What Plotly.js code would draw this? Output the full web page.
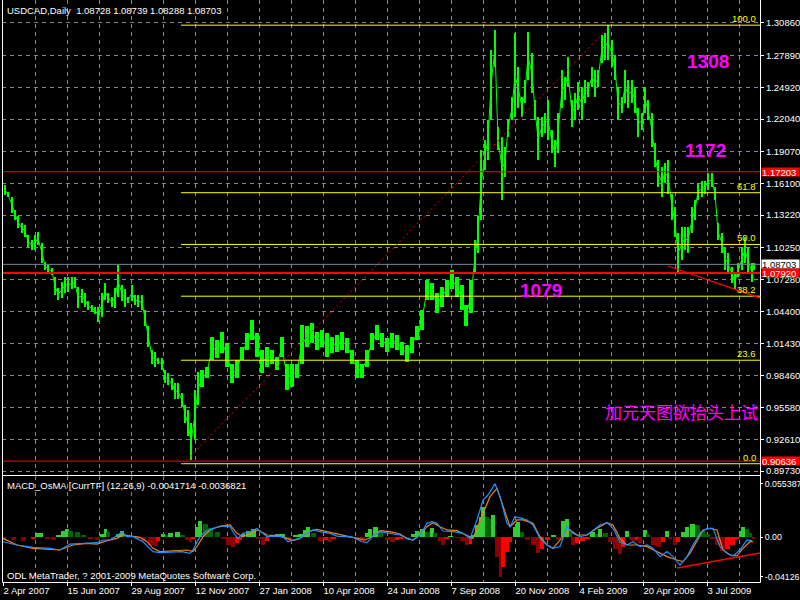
<!DOCTYPE html>
<html><head><meta charset="utf-8">
<script src="https://cdn.plot.ly/plotly-3.0.1.min.js"></script>
<style>html,body{margin:0;padding:0;background:#000;}#chart{width:800px;height:600px;}</style>
</head><body><div id="chart"></div>
<script>
// ---------------- DATA ----------------
const symbolTitle = 'USDCAD,Daily\u00a0\u00a01.08728 1.08739 1.08288 1.08703';
const macdTitle = 'MACD_OsMA [CurrTF] (12,26,9) -0.0041714 -0.0036821';
const copyright = 'ODL MetaTrader, ? 2001-2009 MetaQuotes Software Corp.';

const dateLabels = ['2 Apr 2007','15 Jun 2007','29 Aug 2007','12 Nov 2007','27 Jan 2008','10 Apr 2008','24 Jun 2008','7 Sep 2008','20 Nov 2008','4 Feb 2009','20 Apr 2009','3 Jul 2009'];
const dateBars = [0,64,128,192,256,320,384,448,512,576,640,704];

const priceLabels = ['1.30860','1.27890','1.24920','1.22040','1.19070','1.16100','1.13220','1.10250','1.07280','1.04400','1.01430','0.98460','0.95580','0.92610','0.89730'];
const macdLabels = ['0.055387','0.00','-0.04126'];

const bars = [2,5,9,12,15,19,22,25,29,32,
35,39,42,45,49,52,55,59,62,65,
69,72,75,79,82,85,89,92,95,99,
102,105,109,112,115,119,122,125,129,132,
135,139,142,145,149,152,155,159,162,165,
169,172,175,179,182,185,188,192,195,199,
204,209,214,219,224,229,234,239,244,249,
254,259,264,269,274,279,284,289,294,299,
304,309,314,319,324,329,334,339,344,349,
354,359,364,369,374,379,384,389,394,399,
404,409,414,419,424,429,434,439,444,449,
454,459,463,468,472,475,478,482,485,488,
492,495,499,502,505,509,512,515,519,522,
525,529,532,535,539,542,545,549,552,555,
559,562,565,569,572,575,579,582,585,589,
592,595,599,602,605,609,612,615,619,622,
625,629,632,635,639,642,645,649,652,655,
659,662,665,669,672,675,679,682,685,689,
692,695,699,702,705,709,712,715,719,722,
725,729,732,735,739,742,745,749,751];

const highs = [1.160,1.153,1.149,1.137,1.131,1.125,1.123,1.114,1.109,1.114,
1.117,1.107,1.089,1.086,1.084,1.075,1.065,1.071,1.075,1.075,
1.075,1.075,1.066,1.064,1.061,1.053,1.050,1.048,1.048,1.061,
1.070,1.061,1.057,1.065,1.086,1.068,1.064,1.057,1.068,1.059,
1.059,1.059,1.045,1.030,1.008,1.007,1.001,1.001,0.990,0.987,
0.983,0.978,0.978,0.969,0.958,0.953,0.941,0.972,0.988,0.990,
0.993,1.020,1.018,1.025,1.015,0.996,0.999,1.011,1.024,1.036,
1.024,1.008,1.011,1.008,1.002,1.020,0.996,0.996,0.996,1.031,
1.030,1.033,1.025,1.027,1.024,1.020,1.022,1.025,1.019,1.008,
0.999,0.996,1.008,1.024,1.031,1.024,1.019,1.024,1.022,1.016,
1.013,1.020,1.030,1.045,1.073,1.070,1.061,1.066,1.073,1.082,
1.075,1.068,1.050,1.073,1.109,1.131,1.192,1.201,1.220,1.284,
1.302,1.213,1.204,1.195,1.220,1.241,1.299,1.268,1.241,1.256,
1.300,1.281,1.238,1.222,1.222,1.226,1.238,1.210,1.201,1.226,
1.265,1.259,1.277,1.238,1.244,1.254,1.250,1.256,1.254,1.268,
1.265,1.265,1.298,1.299,1.307,1.293,1.279,1.250,1.241,1.265,
1.256,1.256,1.250,1.231,1.226,1.250,1.238,1.226,1.198,1.183,
1.176,1.180,1.183,1.152,1.140,1.116,1.121,1.121,1.121,1.140,
1.146,1.162,1.164,1.164,1.171,1.171,1.158,1.125,1.116,1.103,
1.097,1.085,1.079,1.088,1.103,1.112,1.103,1.088,1.088];

const lows = [1.151,1.149,1.134,1.128,1.120,1.116,1.112,1.103,1.100,1.100,
1.105,1.088,1.082,1.080,1.077,1.059,1.054,1.056,1.061,1.062,
1.064,1.065,1.047,1.052,1.048,1.045,1.043,1.041,1.034,1.039,
1.054,1.052,1.048,1.047,1.057,1.053,1.048,1.052,1.053,1.050,
1.048,1.045,1.030,1.011,0.996,0.993,0.996,0.990,0.978,0.976,
0.972,0.963,0.963,0.956,0.941,0.929,0.907,0.926,0.958,0.974,
0.983,0.999,1.001,1.006,0.993,0.978,0.983,0.999,1.008,1.018,
1.002,0.987,0.993,0.996,0.990,1.002,0.972,0.974,0.983,0.996,
1.011,1.015,1.008,1.011,1.002,1.006,1.007,1.008,1.006,0.996,
0.983,0.983,0.993,1.008,1.018,1.011,1.007,1.010,1.008,1.004,
0.997,1.006,1.018,1.027,1.054,1.054,1.042,1.048,1.057,1.064,
1.057,1.045,1.030,1.042,1.079,1.097,1.128,1.174,1.183,1.220,
1.268,1.192,1.146,1.167,1.204,1.220,1.222,1.231,1.222,1.235,
1.256,1.244,1.220,1.183,1.204,1.208,1.201,1.189,1.176,1.189,
1.231,1.238,1.250,1.213,1.220,1.229,1.220,1.235,1.241,1.250,
1.241,1.250,1.272,1.275,1.275,1.268,1.256,1.220,1.226,1.235,
1.231,1.235,1.226,1.204,1.210,1.226,1.220,1.195,1.176,1.158,
1.149,1.162,1.152,1.128,1.112,1.079,1.091,1.100,1.097,1.116,
1.128,1.146,1.149,1.152,1.155,1.158,1.146,1.109,1.097,1.082,
1.079,1.070,1.064,1.075,1.082,1.088,1.079,1.071,1.082];

const macdBars = [0,14,30,47,57,62,67,80,94,100,
107,115,119,124,130,140,145,150,157,170,
179,187,190,194,197,202,210,220,227,232,
235,240,247,254,257,264,274,280,285,290,
297,304,310,317,327,334,344,350,359,364,
370,377,387,397,404,410,417,424,429,434,
440,450,460,467,474,480,485,492,497,504,
507,512,519,524,530,537,544,550,557,564,
570,577,584,590,597,604,610,617,624,630,
637,644,650,657,664,670,677,684,690,697,
704,710,717,724,730,737,744,749];
const macdValues = [-0.0049,-0.0083,-0.0107,-0.0118,-0.0135,-0.0107,-0.0073,-0.0066,-0.0059,-0.0031,
-0.0031,0.0021,0.0055,0.0003,0.0003,-0.0049,-0.0100,-0.0152,-0.0163,-0.0152,
-0.0152,-0.0170,-0.0135,-0.0049,0.0003,0.0055,0.0090,0.0114,0.0107,0.0021,
-0.0014,0.0038,0.0055,0.0090,0.0062,0.0003,0.0010,0.0003,-0.0049,-0.0031,
-0.0014,0.0038,0.0073,0.0055,0.0038,0.0010,0.0003,-0.0003,-0.0049,-0.0059,
0.0010,0.0055,0.0038,0.0021,-0.0014,-0.0031,0.0021,0.0142,0.0159,0.0142,
0.0062,0.0055,0.0038,-0.0014,0.0177,0.0384,0.0436,0.0554,0.0419,0.0142,
0.0107,0.0211,0.0194,0.0177,0.0125,-0.0014,-0.0083,-0.0118,-0.0100,0.0107,
0.0038,0.0003,0.0021,0.0073,0.0125,0.0149,0.0090,-0.0049,-0.0083,-0.0049,
-0.0100,-0.0083,-0.0118,-0.0204,-0.0152,-0.0204,-0.0291,-0.0204,-0.0083,0.0038,
0.0090,0.0090,-0.0100,-0.0170,-0.0197,-0.0135,-0.0031,-0.0038];

const signalBars = [0,14,30,47,57,64,70,84,94,104,
114,120,127,137,144,150,157,170,184,190,
195,200,207,217,227,234,240,247,255,264,
274,284,290,297,305,314,324,334,344,354,
362,369,377,387,397,404,410,417,424,430,
437,444,454,464,470,480,487,494,500,507,
514,520,530,537,544,550,560,567,574,584,
594,604,610,617,624,634,644,654,664,674,
680,687,694,700,707,714,720,727,734,740,
747,750];
const signalValues = [-0.0014,-0.0083,-0.0118,-0.0128,-0.0135,-0.0107,-0.0083,-0.0066,-0.0073,-0.0038,
-0.0014,0.0021,0.0010,-0.0003,-0.0049,-0.0118,-0.0152,-0.0145,-0.0135,-0.0152,
-0.0083,0.0003,0.0073,0.0114,0.0125,0.0038,0.0003,0.0038,0.0073,0.0021,
0.0014,-0.0014,-0.0038,-0.0014,0.0055,0.0080,0.0055,0.0031,0.0010,-0.0014,
-0.0031,0.0003,0.0066,0.0055,0.0031,-0.0014,-0.0031,0.0021,0.0107,0.0149,
0.0107,0.0073,0.0066,0.0021,-0.0014,0.0246,0.0419,0.0506,0.0315,0.0107,
0.0177,0.0177,0.0142,0.0003,-0.0083,-0.0118,0.0003,0.0073,0.0021,0.0021,
0.0090,0.0149,0.0125,-0.0014,-0.0083,-0.0083,-0.0100,-0.0152,-0.0204,-0.0239,
-0.0256,-0.0170,-0.0031,0.0073,0.0090,0.0073,-0.0135,-0.0187,-0.0197,-0.0118,
-0.0049,-0.0049];

const osmaBars = [0,10,20,30,34,37,44,50,55,60,
64,67,74,80,87,94,99,102,105,110,
115,119,122,134,140,147,152,155,160,164,
167,174,179,184,187,190,194,197,202,207,
214,220,225,230,234,237,240,245,250,255,
260,264,269,274,279,284,287,292,297,302,
305,310,317,322,327,330,337,347,354,359,
364,367,372,377,384,389,394,397,404,410,
414,419,424,429,432,437,440,444,447,454,
459,464,467,470,474,477,480,484,487,490,
494,497,500,504,507,512,515,519,524,530,
535,539,544,550,555,560,564,567,570,574,
579,584,589,594,597,602,607,612,617,620,
624,627,630,634,637,642,645,650,655,660,
664,667,672,675,680,684,689,694,699,704,
709,714,719,724,729,734,737,740,744,747,
750];
const osmaValues = [-0.0031,-0.0031,-0.0042,-0.0021,0.0042,0.0042,-0.0021,-0.0031,0.0021,0.0062,
0.0083,0.0062,0.0052,0.0021,-0.0021,-0.0031,0.0031,0.0083,0.0052,-0.0021,
0.0031,0.0062,0.0021,-0.0021,-0.0042,-0.0083,-0.0094,-0.0042,0.0031,0.0021,
0.0042,0.0052,0.0021,-0.0031,-0.0052,-0.0021,0.0104,0.0166,0.0135,0.0094,
0.0052,-0.0021,-0.0083,-0.0104,-0.0062,-0.0031,0.0031,0.0062,0.0083,-0.0021,
-0.0083,-0.0042,0.0021,0.0031,0.0031,-0.0021,-0.0052,0.0021,0.0031,0.0073,
0.0104,0.0042,-0.0042,-0.0031,-0.0052,-0.0021,0.0010,-0.0010,-0.0031,-0.0052,
0.0042,0.0083,0.0104,0.0062,-0.0031,-0.0052,-0.0031,-0.0021,-0.0031,0.0031,
0.0062,0.0083,0.0052,0.0094,0.0042,-0.0042,-0.0083,-0.0021,0.0010,-0.0010,
-0.0042,-0.0083,-0.0073,0.0021,0.0125,0.0208,0.0312,0.0208,0.0187,0.0229,
-0.0208,-0.0413,-0.0312,-0.0156,-0.0052,0.0104,0.0156,0.0052,-0.0031,-0.0083,
-0.0166,-0.0125,-0.0031,0.0021,-0.0031,0.0166,0.0187,0.0052,-0.0083,-0.0062,
-0.0042,-0.0021,0.0052,0.0031,0.0083,0.0042,-0.0052,-0.0125,-0.0177,-0.0104,
0.0062,-0.0031,-0.0042,-0.0031,-0.0062,0.0073,0.0031,-0.0083,-0.0104,-0.0052,
0.0062,-0.0021,-0.0083,-0.0052,0.0052,0.0104,0.0135,0.0125,0.0062,0.0031,
-0.0021,-0.0083,-0.0145,-0.0125,-0.0083,-0.0021,0.0062,0.0104,0.0083,0.0042,
-0.0021];

// Fibonacci retracement anchors and levels
const fibLow = 0.9040, fibHigh = 1.3066;
const fibLevels = [0.0, 23.6, 38.2, 50.0, 61.8, 100.0];
const fibStartBar = 178, fibEndBar = 757;
const fibTrendBars = [180, 608];
const hLinePrices = [1.17203, 1.08703, 1.07920, 0.90636];
const priceTrendBars = [665, 757];
const priceTrendValues = [1.0855, 1.0561];
const macdTrendBars = [674, 757];
const macdTrendValues = [-0.0322, -0.0166];
const noteLabels = ['1308', '1172', '1079'];
const chineseNote = '加元天图欲抬头上试';

// ---------------- STYLE ----------------
const W = 800, H = 600;
const px = v => v / W, py = v => 1 - v / H;
const gridCol = '#778899';
const fontUI = 'Liberation Sans, Arial, sans-serif';
const fs = 9.5;
const xRange = [-1, 757];

const widthsFrom = (xs, cap) => xs.map((b, i) => {
  const l = i > 0 ? b - xs[i - 1] : xs[1] - xs[0];
  const r = i < xs.length - 1 ? xs[i + 1] - b : l;
  return Math.min(cap, (l + r) / 2);
});

const traces = [];

// OsMA histogram
const osmaColors = osmaValues.map((v, i) => {
  const prev = i > 0 ? osmaValues[i - 1] : 0;
  if (v >= 0) return v >= prev ? '#32cd32' : '#006400';
  return v <= prev ? '#8b0000' : '#ff0000';
});
traces.push({type:'bar', x: osmaBars, y: osmaValues, width: widthsFrom(osmaBars, 5), xaxis:'x', yaxis:'y2',
  marker:{color: osmaColors, line:{width:0}}});
traces.push({type:'scatter', mode:'lines', x: signalBars, y: signalValues, xaxis:'x', yaxis:'y2',
  line:{color:'#f07f1f', width:1.2}});
traces.push({type:'scatter', mode:'lines', x: macdBars, y: macdValues, xaxis:'x', yaxis:'y2',
  line:{color:'#1e90ff', width:1.2}});
traces.push({type:'scatter', mode:'lines', x: macdTrendBars, y: macdTrendValues, xaxis:'x', yaxis:'y2',
  line:{color:'#ff0000', width:1.3}});

// price bars (high-low ranges)
traces.push({type:'bar', x: bars, y: highs.map((h, i) => h - lows[i]), base: lows,
  width: widthsFrom(bars, 4).map(w => w * 0.8), xaxis:'x', yaxis:'y',
  marker:{color:'#00ff00', line:{width:0}}});
// thin connecting line through the bar ranges
traces.push({type:'scatter', mode:'lines', x: bars, y: highs.map((h, i) => (h + lows[i]) / 2), xaxis:'x', yaxis:'y',
  line:{color:'#00ff00', width:1}});

// horizontal price lines
const hLineStyles = [
  {color:'#ff0000', width:1},
  {color:gridCol, width:1},
  {color:'#ff0000', width:2},
  {color:'#ff0000', width:1}
];
hLinePrices.forEach((p, i) => {
  traces.push({type:'scatter', mode:'lines', x: xRange, y: [p, p], xaxis:'x', yaxis:'y', line: hLineStyles[i]});
});

// fibonacci levels
const fibPrice = lv => fibLow + (fibHigh - fibLow) * lv / 100;
fibLevels.forEach(lv => {
  traces.push({type:'scatter', mode:'lines', x:[fibStartBar, fibEndBar], y:[fibPrice(lv), fibPrice(lv)],
    xaxis:'x', yaxis:'y', line:{color:'#ffff00', width:1}});
});
traces.push({type:'scatter', mode:'lines', x: fibTrendBars, y:[fibLow, fibHigh], xaxis:'x', yaxis:'y',
  line:{color:'#ff0000', width:1, dash:'2px,3px'}});
traces.push({type:'scatter', mode:'lines', x: priceTrendBars, y: priceTrendValues, xaxis:'x', yaxis:'y',
  line:{color:'#ff0000', width:1.3}});

// ---------------- ANNOTATIONS ----------------
const ann = [];
const txt = (t, x, y, opts) => Object.assign({text:t, xref:'paper', yref:'paper', x:px(x), y:py(y),
  showarrow:false, xanchor:'left', yanchor:'middle', font:{family:fontUI, size:fs, color:'#ffffff'}}, opts||{});
ann.push(txt(symbolTitle, 5, 10));
ann.push(txt(macdTitle, 5, 485));
ann.push(txt(copyright, 5, 575));

fibLevels.forEach(lv => {
  ann.push({text: lv.toFixed(1), xref:'x', yref:'y', x: 755, y: fibPrice(lv), showarrow:false,
    xanchor:'right', yanchor:'bottom', yshift:-1, font:{family:fontUI, size:fs, color:'#ffff00'}});
});

const notePos = [[708, 62], [705, 150], [541, 290]];
noteLabels.forEach((t, i) => {
  ann.push(txt('<b>' + t + '</b>', notePos[i][0], notePos[i][1], {xanchor:'center',
    font:{family:fontUI, size:19, color:'#ff00ff'}}));
});
ann.push(txt(chineseNote, 603, 411, {font:{family:'Noto Sans CJK SC, sans-serif', size:17, color:'#ff00ff'}}));

const hlStyle = [
  {bg:'#ff0000', fg:'#ffffff'},
  {bg:'#ffffff', fg:'#000000'},
  {bg:'#ff0000', fg:'#ffffff'},
  {bg:'#ff0000', fg:'#ffffff'}
];
hLinePrices.forEach((p, i) => {
  ann.push({text: p.toFixed(5), xref:'paper', yref:'y', x: px(761), y: p, showarrow:false,
    xanchor:'left', yanchor:'middle', bgcolor: hlStyle[i].bg, width:37, height:8, align:'left', borderpad:0,
    font:{family:fontUI, size:fs, color: hlStyle[i].fg}});
});

// ---------------- LAYOUT ----------------
const minorBars = [];
for (let b = 32; b <= 757; b += 64) minorBars.push(b);

const borders = [
  [2.5, 0, 2.5, 582.5], [760.5, 0, 760.5, 582.5],
  [2.5, 475.5, 760.5, 475.5], [2.5, 582.5, 760.5, 582.5]
].map(c => ({type:'line', xref:'paper', yref:'paper', x0:px(c[0]), y0:py(c[1]), x1:px(c[2]), y1:py(c[3]),
  line:{color:'#ffffff', width:1}, layer:'above'}));

const layout = {
  width: W, height: H,
  margin: {l:0, r:0, t:0, b:0, pad:0},
  paper_bgcolor:'#000000', plot_bgcolor:'#000000',
  showlegend:false,
  xaxis: {
    domain:[px(2), px(760)], range: xRange, anchor:'y2', automargin:false,
    tickmode:'array', tickvals: dateBars, ticktext: dateLabels,
    ticks:'outside', ticklen:3, tickcolor:'#ffffff', ticklabelposition:'outside right',
    tickfont:{family:fontUI, size:fs, color:'#ffffff'},
    showgrid:true, gridcolor:gridCol, griddash:'4px,4px', gridwidth:1,
    minor:{tickmode:'array', tickvals:minorBars, showgrid:true, gridcolor:gridCol, griddash:'4px,4px', gridwidth:1, ticks:''},
    zeroline:false, showline:false
  },
  yaxis: {
    domain:[py(475), 1], range:[1.3297 - 0.000918*475, 1.3297], anchor:'x', side:'right', automargin:false,
    tickmode:'array', tickvals: priceLabels.map(Number), ticktext: priceLabels,
    ticks:'outside', ticklen:3, tickcolor:'#ffffff',
    tickfont:{family:fontUI, size:fs, color:'#ffffff'},
    showgrid:true, gridcolor:gridCol, griddash:'4px,4px', gridwidth:1,
    zeroline:false, showline:false
  },
  yaxis2: {
    domain:[py(582), py(476)], range:[-45*0.001039, 61*0.001039], anchor:'x', side:'right', automargin:false,
    tickmode:'array', tickvals: macdLabels.map(Number), ticktext: macdLabels,
    ticks:'outside', ticklen:2, tickcolor:'#ffffff',
    tickfont:{family:fontUI, size:8.8, color:'#ffffff'},
    showgrid:false, zeroline:false, showline:false
  },
  bargap:0,
  annotations: ann,
  shapes: borders
};

Plotly.newPlot('chart', traces, layout, {staticPlot:true, displayModeBar:false});
</script>
</body></html>
